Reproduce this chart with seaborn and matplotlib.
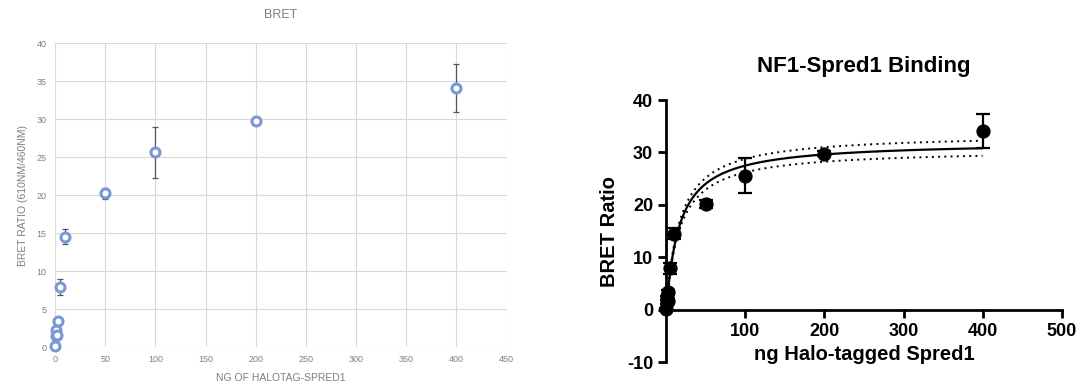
import numpy as np
import pandas as pd
import matplotlib
matplotlib.use('Agg')
import matplotlib.pyplot as plt
import seaborn as sns

# Data
ng_spred1 = [0, 0.5, 1, 1.5, 2.5, 5, 10, 50, 100, 200, 400]
bret_ratio = [0.1, 2.2, 1.5, 1.6, 3.4, 7.9, 14.5, 20.2, 25.6, 29.8, 34.1]
bret_err = [0.3, 0.4, 0.4, 0.4, 0.4, 1.0, 1.0, 0.7, 3.4, 0.4, 3.2]

# one-site binding fit (Prism panel)
bmax = 32.1
kd = 16.7
bmax_hi = 33.6
bmax_lo = 30.6

df = pd.DataFrame({'ng': ng_spred1, 'bret': bret_ratio, 'err': bret_err})

sns.set_theme(style='white')
plt.rcParams['font.family'] = ['Liberation Sans', 'DejaVu Sans']
plt.rcParams['axes.unicode_minus'] = False

fig = plt.figure(figsize=(10.8, 3.91), dpi=100)

# ---- left panel: Excel style ----
ax1 = fig.add_axes([0.051, 0.1125, 0.418, 0.7775])
grey = '#7f7f7f'
ax1.errorbar(df['ng'], df['bret'], yerr=df['err'], fmt='none', ecolor='#555555',
             elinewidth=0.9, capsize=2, capthick=0.9, zorder=2, clip_on=False)
sns.scatterplot(data=df, x='ng', y='bret', ax=ax1, marker='o', s=42,
                facecolor='white', edgecolor='#7898d6', linewidth=2.2, zorder=3,
                clip_on=False)
ax1.set_xlim(0, 450)
ax1.set_ylim(0, 40)
ax1.set_xticks(range(0, 451, 50))
ax1.set_yticks(range(0, 41, 5))
ax1.grid(True, color='#d9d9d9', linewidth=0.8)
for s in ax1.spines.values():
    s.set_visible(False)
ax1.tick_params(labelsize=6.5, colors=grey, length=0, pad=6)
ax1.set_title('BRET', fontsize=9, color=grey, pad=18)
ax1.set_xlabel('NG OF HALOTAG-SPRED1', fontsize=7.5, color=grey, labelpad=6)
ax1.set_ylabel('BRET RATIO (610NM/460NM)', fontsize=7.5, color=grey, labelpad=6)

# ---- right panel: Prism style ----
ax2 = fig.add_axes([0.617, 0.074, 0.366, 0.670])
xfit = np.linspace(0, 400, 400)
fit = pd.DataFrame({'x': xfit,
                    'y': bmax * xfit / (kd + xfit),
                    'hi': bmax_hi * xfit / (kd + xfit),
                    'lo': bmax_lo * xfit / (kd + xfit)})
sns.lineplot(data=fit, x='x', y='y', ax=ax2, color='black', linewidth=1.6, zorder=2)
sns.lineplot(data=fit, x='x', y='hi', ax=ax2, color='black', linewidth=1.4,
             linestyle=(0, (1, 2.2)), zorder=2)
sns.lineplot(data=fit, x='x', y='lo', ax=ax2, color='black', linewidth=1.4,
             linestyle=(0, (1, 2.2)), zorder=2)
ax2.errorbar(df['ng'], df['bret'], yerr=df['err'], fmt='none', ecolor='black',
             elinewidth=1.6, capsize=5, capthick=1.6, zorder=3, clip_on=False)
sns.scatterplot(data=df, x='ng', y='bret', ax=ax2, marker='o', s=90,
                color='black', edgecolor='black', zorder=4, clip_on=False)
ax2.set_xlim(0, 500)
ax2.set_ylim(-10, 40)
ax2.set_xticks([100, 200, 300, 400, 500])
ax2.set_yticks(range(-10, 41, 10))
ax2.spines['top'].set_visible(False)
ax2.spines['right'].set_visible(False)
ax2.spines['bottom'].set_position(('data', 0))
ax2.spines['left'].set_position(('data', 0))
for side in ['bottom', 'left']:
    ax2.spines[side].set_linewidth(2)
    ax2.spines[side].set_color('black')
ax2.tick_params(axis='both', direction='out', length=6, width=2, color='black',
                labelcolor='black', labelsize=13, bottom=True, left=True)
for lab in ax2.get_xticklabels() + ax2.get_yticklabels():
    lab.set_fontweight('bold')
ax2.set_xlabel('ng Halo-tagged Spred1', fontsize=14.5, fontweight='bold',
               color='black', labelpad=4)
ax2.set_ylabel('BRET Ratio', fontsize=14.5, fontweight='bold', color='black',
               labelpad=6)
ax2.set_title('NF1-Spred1 Binding', fontsize=16, fontweight='bold', color='black',
              pad=20)

fig.savefig('out.png', dpi=100)
